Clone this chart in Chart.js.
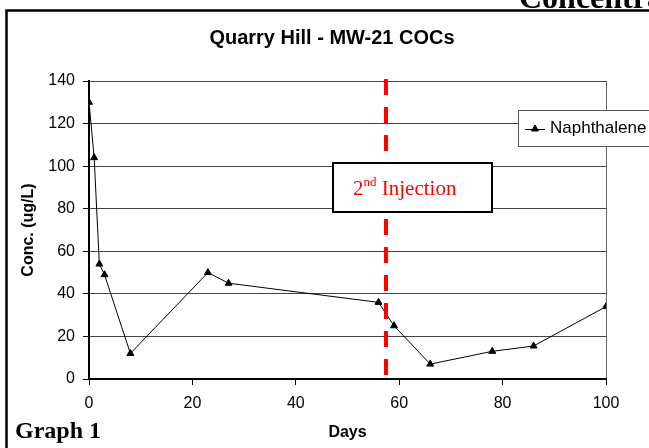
<!DOCTYPE html>
<html>
<head>
<meta charset="utf-8">
<script src="https://cdn.jsdelivr.net/npm/chart.js@4"></script>
<style>
  body { margin: 0; background: #fff; }
  canvas { display: block; }
</style>
</head>
<body>
<canvas id="myChart" width="649" height="448"></canvas>
<script>
// data
const days = [0, 1, 2, 3, 8, 23, 27, 56, 59, 66, 78, 86, 100];
const naphthalene = [130, 104, 54, 49, 12, 50, 45, 36, 25, 7, 13, 15.5, 34];
const xTicks = [0, 20, 40, 60, 80, 100];
const yTicks = [0, 20, 40, 60, 80, 100, 120, 140];
const injectionDay = 57.5;

Chart.defaults.font.family = "'Liberation Sans', Arial, sans-serif";
Chart.defaults.font.size = 16;
Chart.defaults.color = '#000';

const deco = {
  id: 'deco',
  afterDatasetsDraw(chart) {
    const { ctx, chartArea, scales } = chart;
    const px = Math.round(scales.x.getPixelForValue(injectionDay));
    ctx.save();
    // red dashed injection line
    ctx.strokeStyle = '#ff0000';
    ctx.lineWidth = 4;
    ctx.setLineDash([16, 12]);
    ctx.beginPath();
    ctx.moveTo(px, chartArea.top - 2);
    ctx.lineTo(px, chartArea.bottom - 3);
    ctx.stroke();
    ctx.setLineDash([]);
    // label box
    const bx = px - 53, by = 163;
    ctx.fillStyle = '#fff';
    ctx.fillRect(bx, by, 159, 49);
    ctx.strokeStyle = '#000';
    ctx.lineWidth = 2;
    ctx.strokeRect(bx, by, 159, 49);
    ctx.fillStyle = '#ff0000';
    ctx.textBaseline = 'alphabetic';
    ctx.textAlign = 'left';
    let tx = bx + 20;
    ctx.font = "21px 'Liberation Serif', 'Times New Roman', serif";
    ctx.fillText('2', tx, 195);
    tx += ctx.measureText('2').width;
    ctx.font = "13px 'Liberation Serif', 'Times New Roman', serif";
    ctx.fillText('nd', tx, 186);
    tx += ctx.measureText('nd').width;
    ctx.font = "21px 'Liberation Serif', 'Times New Roman', serif";
    ctx.fillText(' Injection', tx, 195);
    ctx.restore();
  },
  afterDraw(chart) {
    const { ctx } = chart;
    ctx.save();
    // outer frame
    ctx.strokeStyle = '#000';
    ctx.lineWidth = 2.5;
    ctx.strokeRect(6.5, 10.5, 700, 500);
    // page heading cut at the top
    ctx.fillStyle = '#000';
    ctx.font = "bold 32px 'Liberation Serif', 'Times New Roman', serif";
    ctx.textAlign = 'left';
    ctx.textBaseline = 'alphabetic';
    ctx.fillText('Concentrations', 519, 8);
    // chart title
    ctx.font = "bold 20px 'Liberation Sans', Arial, sans-serif";
    ctx.textAlign = 'center';
    ctx.textBaseline = 'middle';
    ctx.fillText('Quarry Hill - MW-21 COCs', 332, 38);
    // Graph 1
    ctx.font = "bold 24px 'Liberation Serif', 'Times New Roman', serif";
    ctx.textAlign = 'left';
    ctx.textBaseline = 'alphabetic';
    ctx.fillText('Graph 1', 15, 438);
    // legend
    ctx.fillStyle = '#fff';
    ctx.fillRect(518.5, 110.5, 140, 36);
    ctx.strokeStyle = '#555';
    ctx.lineWidth = 1;
    ctx.strokeRect(518.5, 110.5, 140, 36);
    ctx.strokeStyle = '#000';
    ctx.beginPath();
    ctx.moveTo(525, 129.5);
    ctx.lineTo(545, 129.5);
    ctx.stroke();
    ctx.fillStyle = '#000';
    Chart.helpers.drawPoint(ctx, { pointStyle: 'triangle', radius: 4, borderWidth: 1, rotation: 0 }, 535, 129);
    ctx.font = "17px 'Liberation Sans', Arial, sans-serif";
    ctx.textBaseline = 'middle';
    ctx.fillText(chart.data.datasets[0].label, 550, 128);
    ctx.restore();
  }
};

const ctx = document.getElementById('myChart');
new Chart(ctx, {
  type: 'line',
  data: {
    datasets: [{
      label: 'Naphthalene',
      data: days.map((d, i) => ({ x: d, y: naphthalene[i] })),
      borderColor: '#000',
      borderWidth: 1,
      backgroundColor: '#000',
      pointStyle: 'triangle',
      pointRadius: 4,
      pointBorderWidth: 1,
      pointBackgroundColor: '#000',
      pointBorderColor: '#000',
      fill: false,
      tension: 0
    }]
  },
  options: {
    responsive: false,
    animation: false,
    devicePixelRatio: 1,
    layout: { padding: { left: 0, top: 81, right: 43, bottom: 0 } },
    plugins: {
      legend: { display: false },
      tooltip: { enabled: false }
    },
    scales: {
      x: {
        type: 'linear',
        min: 0,
        max: 100,
        afterBuildTicks: s => { s.ticks = xTicks.map(v => ({ value: v })); },
        afterFit: s => { s.height = 69; },
        ticks: { padding: 9, maxRotation: 0, font: { size: 16 } },
        grid: {
          drawOnChartArea: true,
          drawTicks: true,
          tickLength: 6,
          tickColor: '#000',
          color: c => (c.tick && c.tick.value === 100 ? '#666' : 'rgba(0,0,0,0)'),
          lineWidth: 1
        },
        border: { display: true, color: '#000', width: 2 },
        title: {
          display: true,
          text: 'Days',
          font: { size: 16, weight: 'bold' },
          padding: { top: 0, bottom: 6 }
        }
      },
      y: {
        min: 0,
        max: 140,
        afterBuildTicks: s => { s.ticks = yTicks.map(v => ({ value: v })); },
        afterFit: s => { s.width = 89; },
        ticks: { padding: 8, font: { size: 16 } },
        grid: {
          color: '#444',
          lineWidth: 1,
          tickLength: 6,
          tickColor: '#000'
        },
        border: { display: true, color: '#000', width: 2 },
        title: {
          display: true,
          text: 'Conc. (ug/L)',
          font: { size: 16, weight: 'bold' },
          padding: { top: 19, bottom: 0 }
        }
      }
    }
  },
  plugins: [deco]
});
</script>
</body>
</html>
